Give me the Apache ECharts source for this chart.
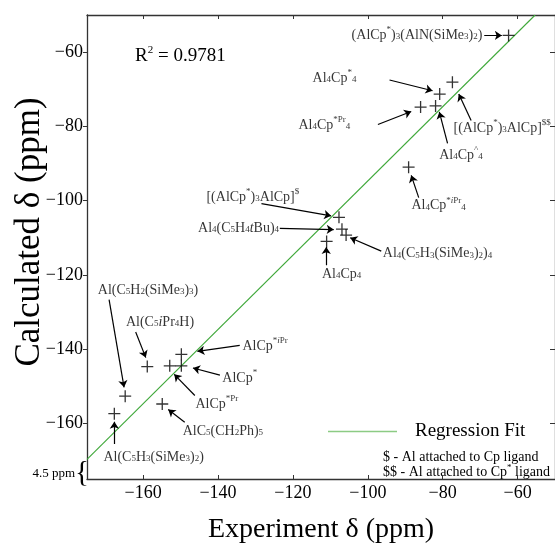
<!DOCTYPE html>
<html lang="en">
<head>
  <meta charset="UTF-8">
  <title>Calculated vs Experiment shifts</title>
  <script src="https://cdn.jsdelivr.net/npm/echarts@6/dist/echarts.min.js"></script>
  <style>
    html, body { margin: 0; padding: 0; background: #fff; }
    #main { width: 555px; height: 549px; }
  </style>
</head>
<body>
  <div id="main"></div>
  <script>
    // values
    var expShift = [-62.4, -77.4, -80.8, -85.9, -81.9, -89.1, -107.7, -106.9, -105.8, -111.0,
                    -149.8, -149.8, -152.9, -158.9, -164.8, -154.9, -167.7];
    var calcShift = [-55.5, -68.1, -71.3, -74.8, -74.5, -91.0, -104.5, -107.7, -109.3, -111.0,
                     -141.4, -144.5, -144.5, -144.7, -152.7, -154.8, -157.4];
    var tickValues = [-160, -140, -120, -100, -80, -60];
    var fitX = [-175, -55.3];
    var fitY = [-169.7, -50];

    var FONT = 'Liberation Serif';

    // compound labels: text, anchor point, alignment, arrow start/end (data units)
    var notes = [
      ['(AlCp{sup|*}){sub|3}(AlN(SiMe{sub|3}){sub|2})', [-69.4, -55.5], 'right', [-68.9, -55.5], [-64.2, -55.5]],
      ['Al{sub|4}Cp{sup|*}{sub|4}', [-108.9, -67.1], 'center', [-94.2, -67.5], [-82.7, -70.4]],
      ['Al{sub|4}Cp{sup|*Pr}{sub|4}', [-111.6, -79.8], 'center', [-97.3, -79.5], [-88.4, -76.0]],
      ['[(AlCp{sup|*}){sub|3}AlCp]{sup|$$}', [-77.1, -80.6], 'left', [-72.4, -78.4], [-75.7, -71.3]],
      ['Al{sub|4}Cp{sup|^}{sub|4}', [-75.1, -87.7], 'center', [-78.7, -84.6], [-80.9, -76.1]],
      ['[(AlCp{sup|*}){sub|3}AlCp]{sup|$}', [-130.7, -99.2], 'center', [-128.4, -100.8], [-109.8, -104.1]],
      ['Al{sub|4}(C{sub|5}H{sub|4}{it|t}Bu){sub|4}', [-123.7, -107.5], 'right', [-123.5, -107.5], [-109.1, -107.8]],
      ['Al{sub|4}(C{sub|5}H{sub|3}(SiMe{sub|3}){sub|2}){sub|4}', [-96.0, -114.3], 'left', [-96.4, -113.6], [-104.7, -110.0]],
      ['Al{sub|4}Cp{sub|4}', [-107.0, -119.8], 'center', [-111.1, -117.4], [-111.1, -112.5]],
      ['Al{sub|4}Cp{sup|*}{supi|i}{sup|Pr}{sub|4}', [-81.1, -101.4], 'center', [-86.4, -99.2], [-88.4, -93.2]],
      ['Al(C{sub|5}H{sub|2}(SiMe{sub|3}){sub|3})', [-158.7, -124.1], 'center', [-169.1, -126.7], [-165.1, -150.3]],
      ['Al(C{sub|5}{it|i}Pr{sub|4}H)', [-155.5, -132.8], 'center', [-162.0, -135.4], [-159.3, -142.3]],
      ['AlCp{sup|*}{supi|i}{sup|Pr}', [-133.5, -139.2], 'left', [-134.2, -139.0], [-145.5, -140.6]],
      ['AlCp{sup|*}', [-134.2, -147.9], 'center', [-139.5, -147.0], [-146.7, -145.1]],
      ['AlCp{sup|*Pr}', [-140.3, -154.9], 'center', [-146.2, -152.5], [-151.7, -146.8]],
      ['AlC{sub|5}(CH{sub|2}Ph){sub|5}', [-138.7, -162.2], 'center', [-148.9, -159.7], [-153.3, -156.3]],
      ['Al(C{sub|5}H{sub|3}(SiMe{sub|3}){sub|2})', [-157.2, -169.1], 'center', [-167.7, -165.6], [-167.7, -159.6]]
    ];

    var rich = {
      sub: { fontSize: 9, verticalAlign: 'middle', padding: [3, 0, 0, 0], fontFamily: FONT, color: '#000' },
      sup: { fontSize: 9, lineHeight: 8, verticalAlign: 'top', fontFamily: FONT, color: '#000' },
      supi: { fontSize: 9, lineHeight: 8, verticalAlign: 'top', fontStyle: 'italic', fontFamily: FONT, color: '#000' },
      it: { fontSize: 14, fontStyle: 'italic', fontFamily: FONT, color: '#000' }
    };

    function minus(v) {
      return String(v).replace('-', '\u2212');
    }

    var pts = expShift.map(function (x, i) { return [x, calcShift[i]]; });
    var fitLine = fitX.map(function (x, i) { return [x, fitY[i]]; });

    var labelData = notes.map(function (n) {
      return {
        value: n[1],
        label: { formatter: n[0], align: n[2] }
      };
    });
    var arrowData = notes.map(function (n) {
      return { coords: [n[3], n[4]] };
    });

    var axisBase = {
      type: 'value',
      min: -175,
      max: -50,
      splitLine: { show: false },
      axisLine: { show: true, lineStyle: { color: '#333', width: 1.3 } }
    };

    var chart = echarts.init(document.getElementById('main'));
    var option = {
      animation: false,
      backgroundColor: '#fff',
      textStyle: { fontFamily: FONT },
      grid: { left: 87, top: 15, width: 470, height: 469 },
      legend: {
        data: ['Regression Fit'],
        left: 328,
        top: 422,
        padding: 0,
        icon: 'rect',
        itemWidth: 69,
        itemHeight: 1.5,
        itemStyle: { color: '#8ccb84' },
        textStyle: { fontFamily: FONT, fontSize: 19, color: '#000', padding: [0, 0, 0, 13] }
      },
      xAxis: [
        Object.assign({}, axisBase, {
          position: 'bottom',
          name: 'Experiment \u03b4 (ppm)',
          nameLocation: 'middle',
          nameGap: 37,
          nameTextStyle: { fontFamily: FONT, fontSize: 28, color: '#000' },
          axisTick: { show: true, inside: true, length: 4, customValues: tickValues, lineStyle: { color: '#333' } },
          axisLabel: { customValues: tickValues, margin: 5, fontFamily: FONT, fontSize: 18, color: '#000', formatter: minus }
        }),
        Object.assign({}, axisBase, {
          position: 'top',
          axisTick: { show: true, inside: true, length: 4, customValues: tickValues, lineStyle: { color: '#333' } },
          axisLabel: { show: false }
        })
      ],
      yAxis: [
        Object.assign({}, axisBase, {
          position: 'left',
          axisTick: { show: true, inside: false, length: 4, customValues: tickValues, lineStyle: { color: '#333' } },
          axisLabel: { customValues: tickValues, margin: 4, fontFamily: FONT, fontSize: 18, color: '#000', formatter: minus }
        }),
        Object.assign({}, axisBase, {
          position: 'right',
          axisTick: { show: true, inside: true, length: 5, customValues: tickValues, lineStyle: { color: '#333' } },
          axisLabel: { show: false }
        })
      ],
      graphic: [
        {
          type: 'text', x: 30, y: 232, rotation: Math.PI / 2,
          style: { text: 'Calculated \u03b4 (ppm)', fontFamily: FONT, fontSize: 35, fill: '#000', align: 'center', verticalAlign: 'middle' }
        },
        {
          type: 'text', x: 135, y: 56,
          style: {
            text: 'R{s|2} = 0.9781', fontFamily: FONT, fontSize: 19, fill: '#000', verticalAlign: 'middle', lineHeight: 22,
            rich: { s: { fontSize: 11, lineHeight: 10, verticalAlign: 'top', fontFamily: FONT, fill: '#000' } }
          }
        },
        {
          type: 'text', x: 75, y: 474,
          style: { text: '4.5 ppm', fontFamily: FONT, fontSize: 13, fill: '#000', align: 'right', verticalAlign: 'middle' }
        },
        {
          type: 'text', x: 82, y: 473,
          style: { text: '{', fontFamily: FONT, fontSize: 29, fill: '#000', align: 'center', verticalAlign: 'middle' }
        },
        {
          type: 'text', x: 383, y: 457,
          style: { text: '$ - Al attached to Cp ligand', fontFamily: FONT, fontSize: 14, fill: '#000', verticalAlign: 'middle' }
        },
        {
          type: 'text', x: 383, y: 472,
          style: {
            text: '$$ - Al attached to Cp{s|*} ligand', fontFamily: FONT, fontSize: 14, fill: '#000', verticalAlign: 'middle', lineHeight: 18,
            rich: { s: { fontSize: 9, lineHeight: 8, verticalAlign: 'top', fontFamily: FONT, fill: '#000' } }
          }
        }
      ],
      series: [
        {
          name: 'Regression Fit',
          type: 'line',
          data: fitLine,
          symbol: 'none',
          lineStyle: { color: '#3fa83a', width: 1.1 },
          itemStyle: { color: '#3fa83a' },
          z: 1
        },
        {
          name: 'Data',
          type: 'scatter',
          data: pts,
          symbol: 'path://M0,6L12,6M6,0L6,12',
          symbolSize: 12,
          itemStyle: { color: 'rgba(0,0,0,0)', borderColor: '#000', borderWidth: 1.3 },
          z: 3
        },
        {
          name: 'arrows',
          type: 'lines',
          coordinateSystem: 'cartesian2d',
          data: arrowData,
          symbol: ['none', 'arrow'],
          symbolSize: 7,
          lineStyle: { color: '#000', width: 1.2, opacity: 1 },
          z: 4
        },
        {
          name: 'labels',
          type: 'scatter',
          data: labelData,
          symbolSize: 1,
          itemStyle: { color: 'rgba(0,0,0,0)' },
          label: {
            show: true,
            position: 'inside',
            verticalAlign: 'middle',
            fontFamily: FONT,
            fontSize: 14,
            lineHeight: 20,
            color: '#000',
            rich: rich
          },
          z: 5
        }
      ]
    };
    chart.setOption(option);
  </script>
</body>
</html>
